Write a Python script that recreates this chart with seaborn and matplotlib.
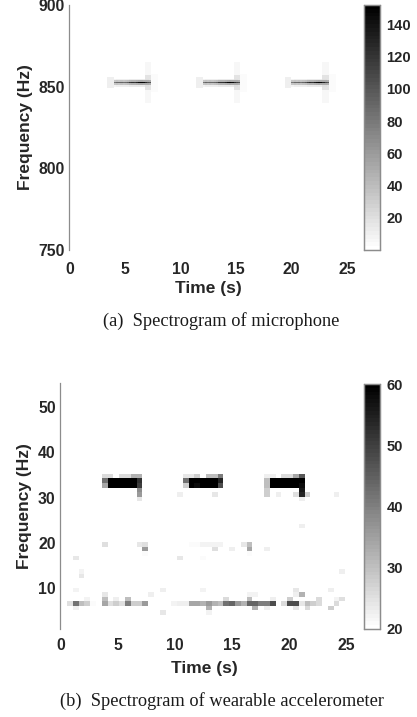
import numpy as np
import matplotlib
matplotlib.use("Agg")
import matplotlib.pyplot as plt
import seaborn as sns

# ---------- microphone spectrogram (a) ----------
mic_freq_top = 900
mic_freq_bottom = 750
mic_bin_s = 0.2
mic_n_cols = 128
burst_start_s = [4.0, 12.0, 20.0]
tone_freq_hz = 853
# magnitude along the tone, one list per burst (0.2 s bins)
tone_core = [
    [80, 90, 88, 92, 86, 90, 96, 118, 125, 120, 132, 145, 150, 148, 130, 110, 104],
    [82, 92, 86, 90, 88, 92, 98, 120, 122, 124, 135, 148, 150, 146, 128, 112, 106],
    [80, 88, 90, 92, 85, 92, 100, 118, 126, 122, 136, 146, 150, 148, 132, 110, 100],
]
tone_side = [34, 36, 35, 36, 35, 36, 38, 44, 46, 46, 48, 52, 54, 52, 50, 50, 48]
tone_fringe = [9, 10, 10, 10, 10, 10, 10, 12, 12, 12, 13, 13, 14, 13, 20, 20, 18]
# faint spread around each burst: start (s after burst), end (s), half width (Hz), magnitude
halo_from = [-0.6, 2.8, 2.8, 3.4]
halo_to = [0.0, 3.4, 3.4, 4.0]
halo_half_hz = [3, 12, 4, 5]
halo_mag = [10, 5, 18, 4]
mic_colorbar_ticks = [20, 40, 60, 80, 100, 120, 140]
mic_vmin, mic_vmax = 0, 152

# ---------- accelerometer spectrogram (b) ----------
acc_bin_s = 0.506
acc_bin_hz = 1.0
acc_n_cols = 51
acc_n_rows = 54
acc_ref_row = 21
acc_ref_hz = 33.7
acc_floor = 20
acc_vmax = 60
acc_colorbar_ticks = [20, 30, 40, 50, 60]
# row counted down from the upper tone row; time bins and dB levels in that row
acc_rows = [-1, 0, 1, 2, 3, 4, 10, 14, 15, 16, 17, 20, 21, 24, 25, 26, 27, 28, 29]
acc_cols = [
    [7, 8, 10, 11, 12, 13, 21, 22, 23, 25, 26, 27, 35, 36, 38, 39, 40, 41],
    [7, 8, 9, 10, 11, 12, 13, 21, 22, 23, 24, 25, 26, 27, 35, 36, 37, 38, 39, 40, 41],
    [7, 8, 9, 10, 11, 12, 13, 21, 22, 23, 24, 25, 26, 27, 35, 36, 37, 38, 39, 40, 41],
    [13, 35, 41],
    [13, 20, 26, 35, 37, 40, 41, 42, 47],
    [13, 41],
    [41],
    [7, 13, 14, 22, 23, 24, 25, 26, 27, 31, 32],
    [14, 26, 29, 32, 35],
    [14, 32],
    [2, 20, 24],
    [3, 48],
    [3],
    [2, 17, 24, 40, 46],
    [7, 15, 32, 33, 40, 41],
    [4, 7, 9, 11, 28, 32, 36, 39, 44, 47, 48],
    [1, 2, 3, 4, 5, 7, 8, 9, 10, 11, 12, 13, 14, 19, 20, 21, 22, 23, 24, 25, 26, 27, 28,
     29, 30, 31, 32, 33, 34, 35, 36, 38, 39, 40, 41, 42, 43, 44, 47],
    [2, 25, 33, 35, 40, 42, 46],
    [17, 25],
]
acc_levels = [
    [26, 26, 26, 26, 32, 32, 24, 24, 28, 30, 30, 40, 23, 23, 26, 26, 34, 46],
    [42, 60, 60, 60, 60, 60, 52, 42, 60, 60, 60, 60, 60, 54, 30, 60, 60, 60, 60, 60, 60],
    [34, 60, 60, 60, 60, 60, 50, 28, 60, 58, 60, 60, 60, 48, 30, 60, 60, 60, 60, 60, 58],
    [38, 28, 56],
    [36, 23, 24, 28, 23, 25, 54, 28, 23],
    [24, 23],
    [23],
    [25, 24, 25, 21, 21, 22, 22, 22, 22, 24, 30],
    [36, 25, 23, 34, 23],
    [21, 21],
    [24, 24, 21],
    [22, 23],
    [24],
    [22, 23, 22, 24, 23],
    [24, 23, 22, 22, 23, 32],
    [22, 30, 23, 30, 26, 30, 23, 28, 26, 22, 25],
    [25, 42, 30, 28, 21, 34, 25, 28, 25, 40, 28, 28, 36, 22, 23, 23, 34, 34, 32, 36, 32, 30, 42,
     44, 36, 32, 44, 44, 40, 40, 48, 26, 48, 48, 24, 30, 28, 26, 26],
    [23, 32, 32, 23, 24, 26, 28],
    [24, 22],
]

x_ticks_s = [0, 5, 10, 15, 20, 25]
mic_y_ticks = [900, 850, 800, 750]
acc_y_ticks = [50, 40, 30, 20, 10]
x_label = "Time (s)"
y_label = "Frequency (Hz)"
caption_a = "(a)  Spectrogram of microphone"
caption_b = "(b)  Spectrogram of wearable accelerometer"

# ---------- assemble the matrices ----------
mic_rows = mic_freq_top - mic_freq_bottom
mic = np.zeros((mic_rows, mic_n_cols))
for b, start in enumerate(burst_start_s):
    c0 = int(round(start / mic_bin_s))
    row = mic_freq_top - tone_freq_hz
    for a0, a1, hw, m in zip(halo_from, halo_to, halo_half_hz, halo_mag):
        i0 = c0 + int(round(a0 / mic_bin_s))
        i1 = c0 + int(round(a1 / mic_bin_s))
        region = mic[row - hw:row + hw + 1, i0:i1]
        region[region < m] = m
    n = len(tone_core[b])
    mic[row, c0:c0 + n] = tone_core[b]
    mic[row - 1, c0:c0 + n] = tone_side
    mic[row + 1, c0:c0 + n] = tone_side
    mic[row - 2, c0:c0 + n] = tone_fringe
    mic[row + 2, c0:c0 + n] = tone_fringe

acc = np.full((acc_n_rows, acc_n_cols), float(acc_floor))
for r, cols, levels in zip(acc_rows, acc_cols, acc_levels):
    acc[r + acc_ref_row, cols] = levels

# ---------- drawing ----------
sns.set_theme(style="white")
W, H = 417, 717
fig = plt.figure(figsize=(W / 100, H / 100), dpi=100, facecolor="white")


def px_axes(x0, y0, x1, y1):
    return fig.add_axes([x0 / W, 1 - y1 / H, (x1 - x0) / W, (y1 - y0) / H])


cmap = matplotlib.colormaps["gray_r"].resampled(64)
TICK_FONT = dict(family="Liberation Sans", fontsize=11.3, fontweight="bold", color="#262626")
CBAR_FONT = dict(family="Liberation Sans", fontsize=10.6, fontweight="bold", color="#262626")
LABEL_FONT = dict(family="Liberation Sans", fontsize=12.5, fontweight="bold", color="#262626")
CAP_FONT = dict(family="Liberation Serif", fontsize=13.2, color="#1a1a1a")


def style(ax, cax, xt, xl, yt, yl, tick_y):
    ax.set_xticks(xt, [str(v) for v in xl], **TICK_FONT, rotation=0)
    ax.set_yticks(yt, [str(v) for v in yl], **TICK_FONT, rotation=0)
    ax.tick_params(axis="both", length=0)
    ax.tick_params(axis="x", pad=tick_y)
    ax.tick_params(axis="y", pad=3.5)
    ax.set_xlabel("")
    ax.set_ylabel("")
    ax.patch.set_alpha(0)
    ax.spines["left"].set_visible(True)
    ax.spines["left"].set_color("#8c8c8c")
    ax.spines["left"].set_linewidth(0.9)
    for s in ("top", "right", "bottom"):
        ax.spines[s].set_visible(False)
    cax.tick_params(axis="y", direction="in", length=3, width=0.7, color="#555555", pad=5,
                    right=True, left=False)
    for t in cax.get_yticklabels():
        t.set(**CBAR_FONT)
    for sp in cax.spines.values():
        sp.set_visible(True)
        sp.set_color("#8c8c8c")
        sp.set_linewidth(0.9)


# panel (a)
ax1 = px_axes(69.3, 5, 352.4, 250)
cax1 = px_axes(364, 5, 379.5, 250)
sns.heatmap(mic, ax=ax1, cbar_ax=cax1, cmap=cmap, vmin=mic_vmin, vmax=mic_vmax,
            cbar_kws={"ticks": mic_colorbar_ticks}, xticklabels=False, yticklabels=False)
ax1.set_xlim(0, 127.5)
ax1.set_ylim(mic_rows, 0)
style(ax1, cax1, [t / mic_bin_s for t in x_ticks_s], x_ticks_s,
      [mic_freq_top - f for f in mic_y_ticks], mic_y_ticks, 9)

# panel (b)
ax2 = px_axes(60.5, 383, 352.7, 628.5)
cax2 = px_axes(364, 384, 379.5, 629)
sns.heatmap(acc, ax=ax2, cbar_ax=cax2, cmap=cmap, vmin=acc_floor, vmax=acc_vmax,
            cbar_kws={"ticks": acc_colorbar_ticks}, xticklabels=False, yticklabels=False)
x0_offset = -0.12
ax2.set_xlim(x0_offset, 50.3)
ax2.set_ylim(acc_n_rows, 0)
style(ax2, cax2, [x0_offset + t * 11.46 / 5.8 for t in x_ticks_s], x_ticks_s,
      [acc_ref_row + 0.5 + (acc_ref_hz - f) / acc_bin_hz for f in acc_y_ticks], acc_y_ticks, 7)

# axis labels and captions in figure pixels
fig.text(208 / W, 1 - 289 / H, x_label, ha="center", va="center", **LABEL_FONT)
fig.text(204 / W, 1 - 668 / H, x_label, ha="center", va="center", **LABEL_FONT)
fig.text(25.5 / W, 1 - 126.7 / H, y_label, ha="center", va="center", rotation=90, **LABEL_FONT)
fig.text(25 / W, 1 - 505.7 / H, y_label, ha="center", va="center", rotation=90, **LABEL_FONT)
fig.text(221 / W, 1 - 321 / H, caption_a, ha="center", va="center", **CAP_FONT)
fig.text(221.5 / W, 1 - 701 / H, caption_b, ha="center", va="center", **CAP_FONT)

fig.savefig("out.png", dpi=100, facecolor="white")
